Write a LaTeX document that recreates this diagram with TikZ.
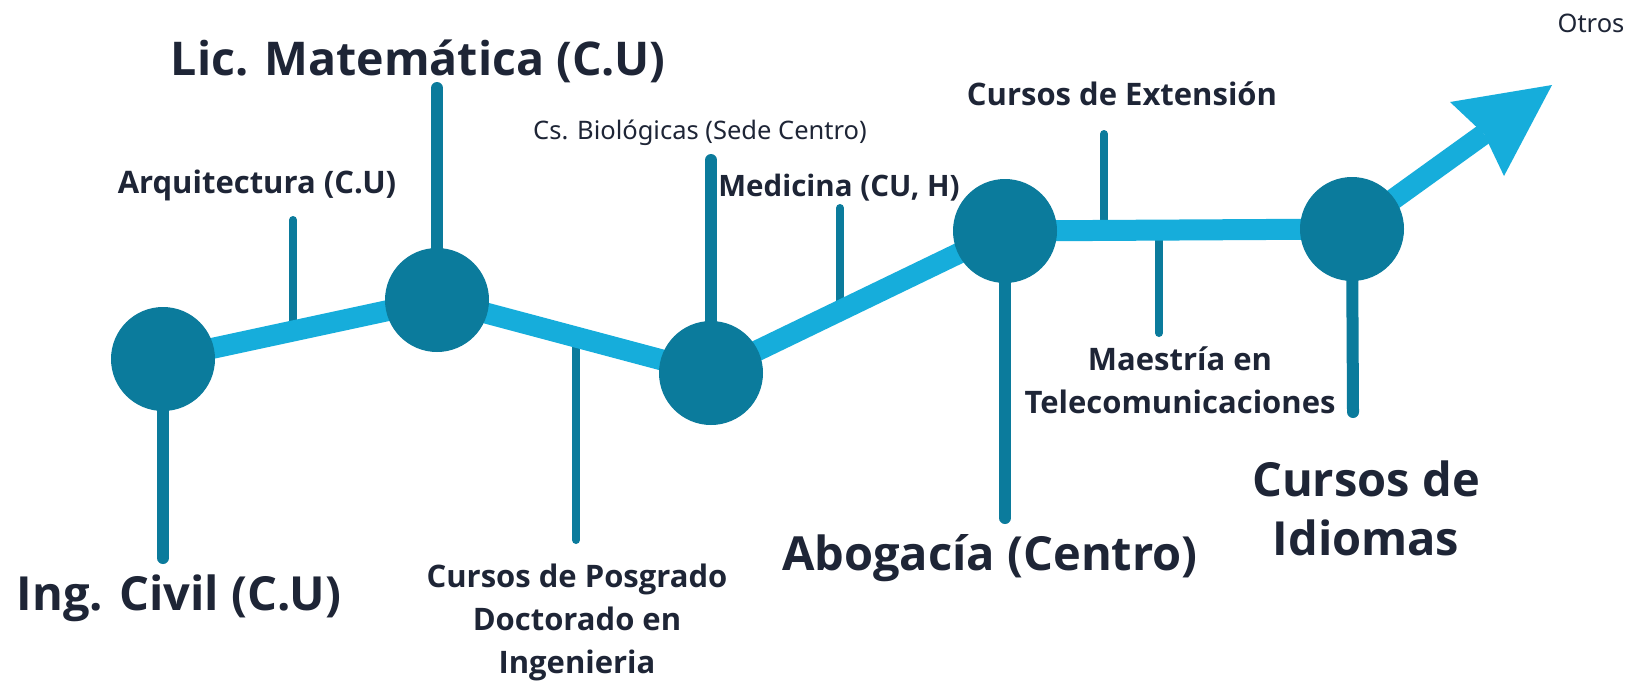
\documentclass[tikz,border=0pt]{standalone}
\usepackage{fontspec}
\setmainfont{Noto Sans}
\newfontfamily\bsans{Open Sans}
\usetikzlibrary{backgrounds}
\definecolor{lineblue}{RGB}{22,173,219}
\definecolor{dotteal}{RGB}{11,123,156}
\definecolor{txt}{RGB}{30,37,54}
\begin{document}
\begin{tikzpicture}[x=1pt,y=-1pt,
  dot/.style={circle,fill=dotteal,minimum size=104pt,inner sep=0pt},
  trunk/.style={draw=lineblue,line width=21pt,line join=round},
  bigstem/.style={draw=dotteal,line width=12pt,line cap=round},
  smallstem/.style={draw=dotteal,line width=8pt,line cap=round},
  headfill/.style={fill=lineblue},
  bigtxt/.style={font=\bsans\bfseries\fontsize{47}{59}\selectfont,text=txt,inner sep=0pt,align=center},
  lictxt/.style={font=\bsans\bfseries\fontsize{46.5}{50}\selectfont,text=txt,inner sep=0pt},
  midtxt/.style={font=\bsans\bfseries\fontsize{31}{43}\selectfont,text=txt,inner sep=0pt,align=center},
  medtxt/.style={font=\bsans\bfseries\fontsize{29.5}{40}\selectfont,text=txt,inner sep=0pt},
  thintxt/.style={font=\fontsize{25.5}{32}\selectfont,text=txt,inner sep=0pt}]
\useasboundingbox (0,0) rectangle (1633,683);

% circles
\node[dot] (c1) at (163,359) {};
\node[dot] (c2) at (437,300) {};
\node[dot] (c3) at (711,373) {};
\node[dot] (c4) at (1005,231) {};
\node[dot] (c5) at (1352,229) {};

% stem end points
\coordinate (civE) at (163,558);
\coordinate (arqT) at (293,220);
\coordinate (arqB) at (293,331);
\coordinate (licT) at (437,88);
\coordinate (posT) at (576,337);
\coordinate (posB) at (576,540);
\coordinate (bioT) at (711,160);
\coordinate (medT) at (840,208);
\coordinate (medB) at (840,311);
\coordinate (aboE) at (1005,518);
\coordinate (extT) at (1104,134);
\coordinate (extB) at (1104,230);
\coordinate (maeT) at (1159,230);
\coordinate (maeB) at (1159,333);
\coordinate (idiE) at (1353,412);

% arrow head points
\coordinate (tip) at (1552,85);
\coordinate (hb) at (1484,134);
\coordinate (hl) at (1450,102);
\coordinate (hr) at (1504,176);

\begin{pgfonlayer}{background}
  \fill[white] (0,0) rectangle (1633,683);
  \draw[bigstem] (c1.center) -- (civE);
  \draw[bigstem] (c2.center) -- (licT);
  \draw[bigstem] (c3.center) -- (bioT);
  \draw[bigstem] (c4.center) -- (aboE);
  \draw[bigstem] (c5.center) -- (idiE);
  \draw[smallstem] (arqT) -- (arqB);
  \draw[smallstem] (posT) -- (posB);
  \draw[smallstem] (medT) -- (medB);
  \draw[smallstem] (extT) -- (extB);
  \draw[smallstem] (maeT) -- (maeB);
  \draw[trunk] (c1.center) -- (c2.center) -- (c3.center) -- (c4.center) -- (c5.center) -- (hb);
  \fill[headfill] (tip) -- (hl) -- (hb) -- (hr) -- cycle;
\end{pgfonlayer}

% labels
\node[lictxt] (lic) at (418,61) {Lic. Matemática (C.U)};
\node[bigtxt] (civ) at (179,598) {Ing. Civil (C.U)};
\node[bigtxt] (abo) at (990,558) {Abogacía (Centro)};
\node[bigtxt] (idi) at (1366,508) {Cursos de\\Idiomas};
\node[midtxt] (arq) at (257,185) {Arquitectura (C.U)};
\node[thintxt] (bio) at (700,133) {Cs. Biológicas (Sede Centro)};
\node[medtxt] (med) at (839,188) {Medicina (CU, H)};
\node[midtxt] (ext) at (1122,94) {Cursos de Extensión};
\node[midtxt] (mae) at (1180,380) {Maestría en\\Telecomunicaciones};
\node[midtxt] (pos) at (577,622) {Cursos de Posgrado\\Doctorado en\\Ingenieria};
\node[thintxt] (otr) at (1591,23) {Otros};
\end{tikzpicture}
\end{document}
